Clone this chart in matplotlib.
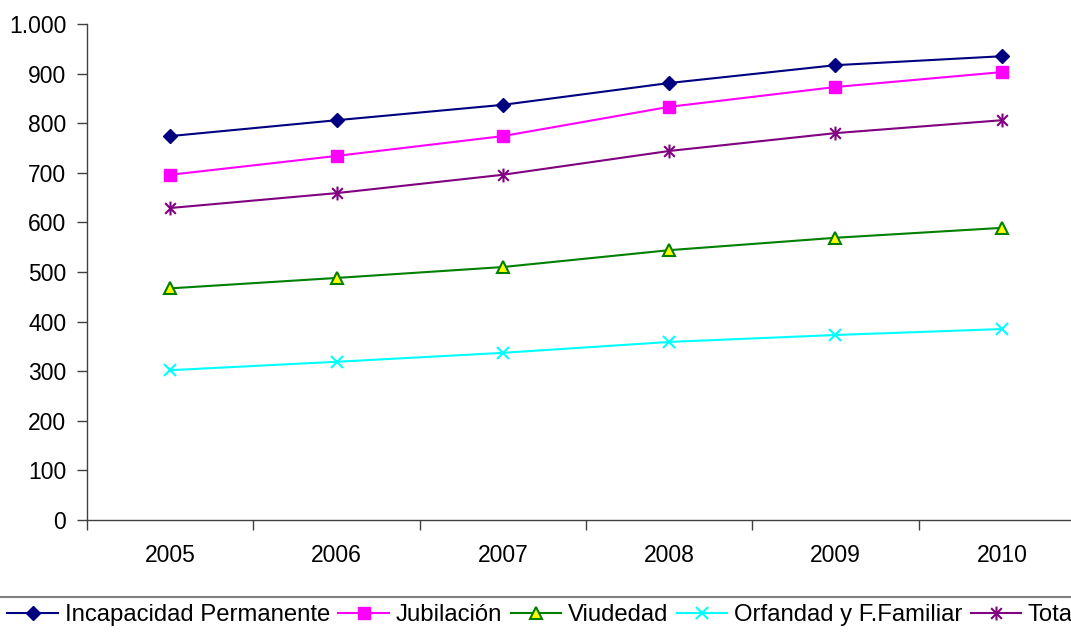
import matplotlib.pyplot as plt
import numpy as np
from matplotlib.path import Path
from matplotlib.lines import Line2D
from matplotlib.ticker import FuncFormatter, FixedLocator

plt.rcParams['font.family'] = ['Liberation Sans', 'DejaVu Sans']
plt.rcParams['font.size'] = 16.5

# datos
anios = ["2005", "2006", "2007", "2008", "2009", "2010"]
incapacidad = [774, 806, 837, 881, 917, 935]
jubilacion = [696, 734, 774, 833, 873, 903]
viudedad = [467, 488, 510, 544, 569, 589]
orfandad = [302, 319, 337, 359, 373, 385]
total = [629, 659, 696, 744, 780, 806]

# marcador asterisco tipo Excel (x + linea vertical)
asterisco = Path(
    [(-1, -1), (1, 1), (-1, 1), (1, -1), (0, -1.3), (0, 1.3)],
    [Path.MOVETO, Path.LINETO, Path.MOVETO, Path.LINETO, Path.MOVETO, Path.LINETO],
)

fig = plt.figure(figsize=(10.71, 6.34), dpi=100)
# el area de trazado se sale por la derecha, como en la imagen original
ax = fig.add_axes([87 / 1071, 1 - 520 / 634, 998 / 1071, 496 / 634])

x = np.arange(len(anios))
ax.plot(x, incapacidad, color="#000080", lw=1.5, marker="D", ms=7, mfc="#000080", mec="#000080",
        label="Incapacidad Permanente")
ax.plot(x, jubilacion, color="#FF00FF", lw=1.5, marker="s", ms=8, mfc="#FF00FF", mec="#FF00FF",
        label="Jubilación")
ax.plot(x, viudedad, color="#008000", lw=1.5, marker="^", ms=9, mfc="#FFFF00", mec="#008000", mew=1.5,
        label="Viudedad")
ax.plot(x, orfandad, color="#00FFFF", lw=1.5, marker="x", ms=9, mec="#00FFFF", mew=1.5,
        label="Orfandad y F.Familiar")
ax.plot(x, total, color="#800080", lw=1.5, marker=asterisco, ms=10, mec="#800080", mew=1.5,
        label="Total")

ax.set_xlim(-0.5, len(anios) - 0.5)
ax.set_ylim(0, 1000)
ax.set_yticks(range(0, 1001, 100))
ax.yaxis.set_major_formatter(FuncFormatter(lambda v, p: f"{int(v):,}".replace(",", ".")))
ax.set_xticks(x)
ax.set_xticklabels(anios)
ax.xaxis.set_minor_locator(FixedLocator(np.arange(-0.5, len(anios), 1)))
eje = "#404040"
ax.tick_params(axis="x", which="major", length=0, pad=17)
ax.tick_params(axis="x", which="minor", length=7, width=1, direction="out", color=eje)
ax.tick_params(axis="y", length=7, width=1, direction="out", pad=8, color=eje)

for s in ["top", "right"]:
    ax.spines[s].set_visible(False)
for s in ["left", "bottom"]:
    ax.spines[s].set_linewidth(1)
    ax.spines[s].set_color(eje)

# linea superior del recuadro de leyenda
fig.add_artist(Line2D([0, 1], [1 - 597 / 634, 1 - 597 / 634], transform=fig.transFigure,
                      color="#808080", lw=1.5))

handles, labels = ax.get_legend_handles_labels()
fig.legend(handles, labels, loc="center left", bbox_to_anchor=(0.007, 1 - 615 / 634), ncol=5,
           frameon=False, handlelength=2.1, handletextpad=0.3, columnspacing=0.35,
           borderaxespad=0, borderpad=0, fontsize=17.2)

plt.savefig("out.png", dpi=100)
